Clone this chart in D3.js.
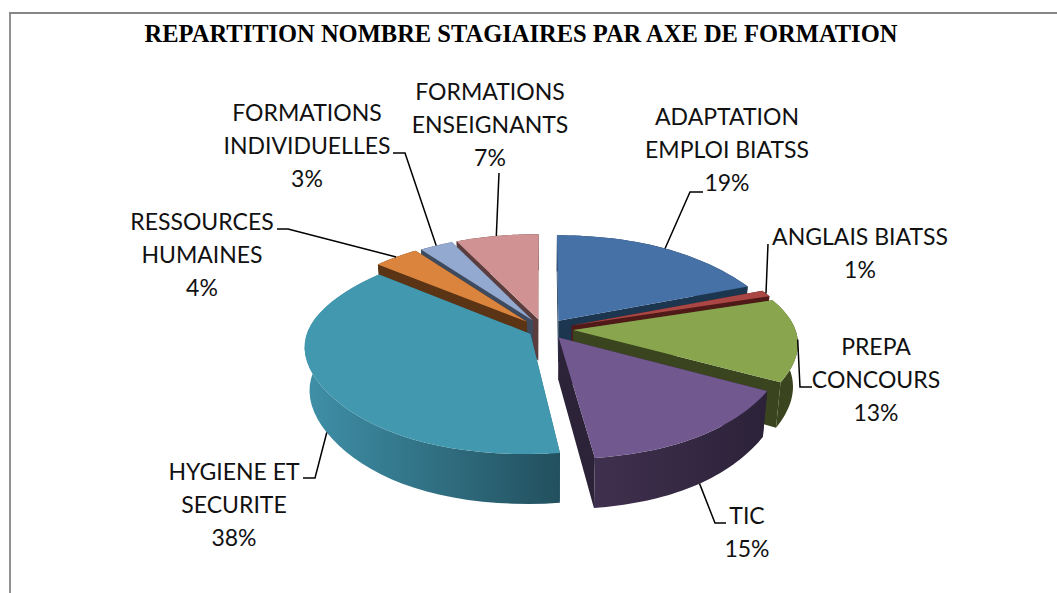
<!DOCTYPE html>
<html>
<head>
<meta charset="utf-8">
<script src="https://cdn.jsdelivr.net/npm/d3@7"></script>
<style>
  html, body { margin: 0; padding: 0; background: #fff; }
  svg { display: block; }
  .lbl { font-family: Lato, sans-serif; font-size: 23px; fill: #111; text-anchor: middle; }
  .title { font-family: "Liberation Serif", serif; font-weight: bold; font-size: 24.5px; fill: #000; text-anchor: middle; }
</style>
</head>
<body>
<svg id="chart" width="1057" height="593"></svg>
<script>
// values, in percent
const categories = ['ADAPTATION EMPLOI BIATSS', 'ANGLAIS BIATSS', 'PREPA CONCOURS', 'TIC', 'HYGIENE ET SECURITE', 'RESSOURCES HUMAINES', 'FORMATIONS INDIVIDUELLES', 'FORMATIONS ENSEIGNANTS'];
const percents = [19, 1, 13, 15, 38, 4, 3, 7];

// how each category name wraps on the label
const labelLines = [
  ['ADAPTATION', 'EMPLOI BIATSS'],
  ['ANGLAIS BIATSS'],
  ['PREPA', 'CONCOURS'],
  ['TIC'],
  ['HYGIENE ET', 'SECURITE'],
  ['RESSOURCES', 'HUMAINES'],
  ['FORMATIONS', 'INDIVIDUELLES'],
  ['FORMATIONS', 'ENSEIGNANTS']
];

const topColors = ['#4571a7', '#aa4643', '#89a54e', '#71588f', '#4198af', '#db843d', '#93a9cf', '#d09292'];
const wallColors = ['#1d3650', '#4f1a18', '#3a451f', '#2d2339', '#2f6d80', '#5a3414', '#3e4a5e', '#5c3d3d'];
const rimDark = ['#1d3650', '#4f1a18', '#3a451f', '#2b2238', '#22505e', '#5a3414', '#3e4a5e', '#5c3d3d'];
const rimLight = ['#1d3650', '#4f1a18', '#3a451f', '#40304f', '#3f90a8', '#5a3414', '#3e4a5e', '#5c3d3d'];

// layout of labels: centre x, first baseline, then leader knee and leader end
const labelX = [727, 860, 876, 747, 234, 202, 307, 490];
const labelY = [125, 245, 355, 524, 480, 230, 121, 100];
const leaders = [
  [[690, 192], [703, 192]],
  [[768, 244]],
  [[800, 387], [812, 387]],
  [[715, 523], [726, 523]],
  [[315, 478], [303, 478]],
  [[288, 229], [277, 229]],
  [[405, 153], [393, 153]],
  [[499, 173]]
];

// small sideways correction of each slice, the exploded slices are not quite radial
const sliceShift = [-2, 3, 3, -2, 2, -6, -4, -5];

const lineGap = 33;
const centerX = 548;
const centerY = 329;
const explode = 0.1;
const perspective = 0.15;
const depth = 42;

const xScale = d3.scaleLinear().domain([-1, 1]).range([centerX - 222, centerX + 222]);
const yScale = d3.scaleLinear().domain([-1, 1]).range([centerY + 100.6, centerY - 100.6]);

const svg = d3.select('#chart');

// only the top and left of the frame are in the picture
svg.append('path')
  .attr('d', d3.line()([[10, 593], [10, 13], [1057, 13]]))
  .attr('fill', 'none')
  .attr('stroke', '#868686')
  .attr('stroke-width', 1.8);

svg.append('text')
  .attr('class', 'title')
  .attr('x', 521)
  .attr('y', 42)
  .text('REPARTITION NOMBRE STAGIAIRES PAR AXE DE FORMATION');

const pie = d3.pie().sort(null).value(d => d)(percents);
pie.forEach((d, i) => {
  d.index = i;
  d.mid = (d.startAngle + d.endAngle) / 2;
});

// project a point of the tilted disc to the screen
function project(slice, angle, r, h) {
  const u = explode * Math.sin(slice.mid) + r * Math.sin(angle);
  const t = explode * Math.cos(slice.mid) + r * Math.cos(angle);
  const s = 1 / (1 + perspective * t);
  // the disc narrows a bit between its axes and towards its underside
  const narrow = (1 - 0.1 * t * t * (1 - t * t)) * (1 - 0.02 * h / depth);
  return [xScale(u * s * narrow) + sliceShift[slice.index], yScale(t * s) + h * s];
}

function rimAngles(slice) {
  return d3.range(0, 41).map(k => slice.startAngle + (slice.endAngle - slice.startAngle) * k / 40);
}

const line = d3.line();
const defs = svg.append('defs');

function sliceOutline(slice) {
  return line([project(slice, 0, 0, 0)].concat(rimAngles(slice).map(a => project(slice, a, 1, 0)))) + 'Z';
}

function radialWall(slice, angle) {
  return line([
    project(slice, 0, 0, 0),
    project(slice, angle, 1, 0),
    project(slice, angle, 1, depth),
    project(slice, 0, 0, depth)
  ]) + 'Z';
}

function rimWall(slice) {
  const a = rimAngles(slice);
  const topEdge = a.map(x => project(slice, x, 1, 0));
  const lowEdge = a.slice().reverse().map(x => project(slice, x, 1, depth));
  return line(topEdge.concat(lowEdge)) + 'Z';
}

// back to front so the nearer slices cover the others
const order = pie.slice().sort((a, b) => d3.descending(Math.cos(a.mid), Math.cos(b.mid)));

const slices = svg.append('g').selectAll('g')
  .data(order)
  .enter()
  .append('g');

slices.each(function(d) {
  const g = d3.select(this);
  const xs = rimAngles(d).map(a => project(d, a, 1, 0)[0]);
  const gradId = 'rim' + d.index;
  const grad = defs.append('linearGradient')
    .attr('id', gradId)
    .attr('gradientUnits', 'userSpaceOnUse')
    .attr('x1', d3.min(xs)).attr('x2', d3.max(xs))
    .attr('y1', 0).attr('y2', 0);
  grad.append('stop').attr('offset', 0).attr('stop-color', rimLight[d.index]);
  grad.append('stop').attr('offset', 1).attr('stop-color', rimDark[d.index]);

  g.append('path').attr('d', radialWall(d, d.startAngle)).attr('fill', wallColors[d.index]);
  g.append('path').attr('d', radialWall(d, d.endAngle)).attr('fill', wallColors[d.index]);
  g.append('path').attr('d', rimWall(d)).attr('fill', `url(#${gradId})`);
  g.append('path').attr('d', sliceOutline(d)).attr('fill', topColors[d.index]);
});

// leader lines start on the rim, at the middle of the slice
svg.append('g').selectAll('path')
  .data(pie)
  .enter()
  .append('path')
  .attr('fill', 'none')
  .attr('stroke', '#000')
  .attr('stroke-width', 1.5)
  .attr('d', d => {
    const h = Math.cos(d.mid) < -0.3 ? depth : 0;
    return line([project(d, d.mid, 1, h)].concat(leaders[d.index]));
  });

const labels = svg.append('g').selectAll('text')
  .data(categories)
  .enter()
  .append('text')
  .attr('class', 'lbl')
  .attr('data-name', d => d);

labels.each(function(d, i) {
  const rows = labelLines[i].concat([percents[i] + '%']);
  d3.select(this).selectAll('tspan')
    .data(rows)
    .enter()
    .append('tspan')
    .attr('x', labelX[i])
    .attr('y', (r, k) => labelY[i] + k * lineGap)
    .text(r => r);
});
</script>
</body>
</html>
